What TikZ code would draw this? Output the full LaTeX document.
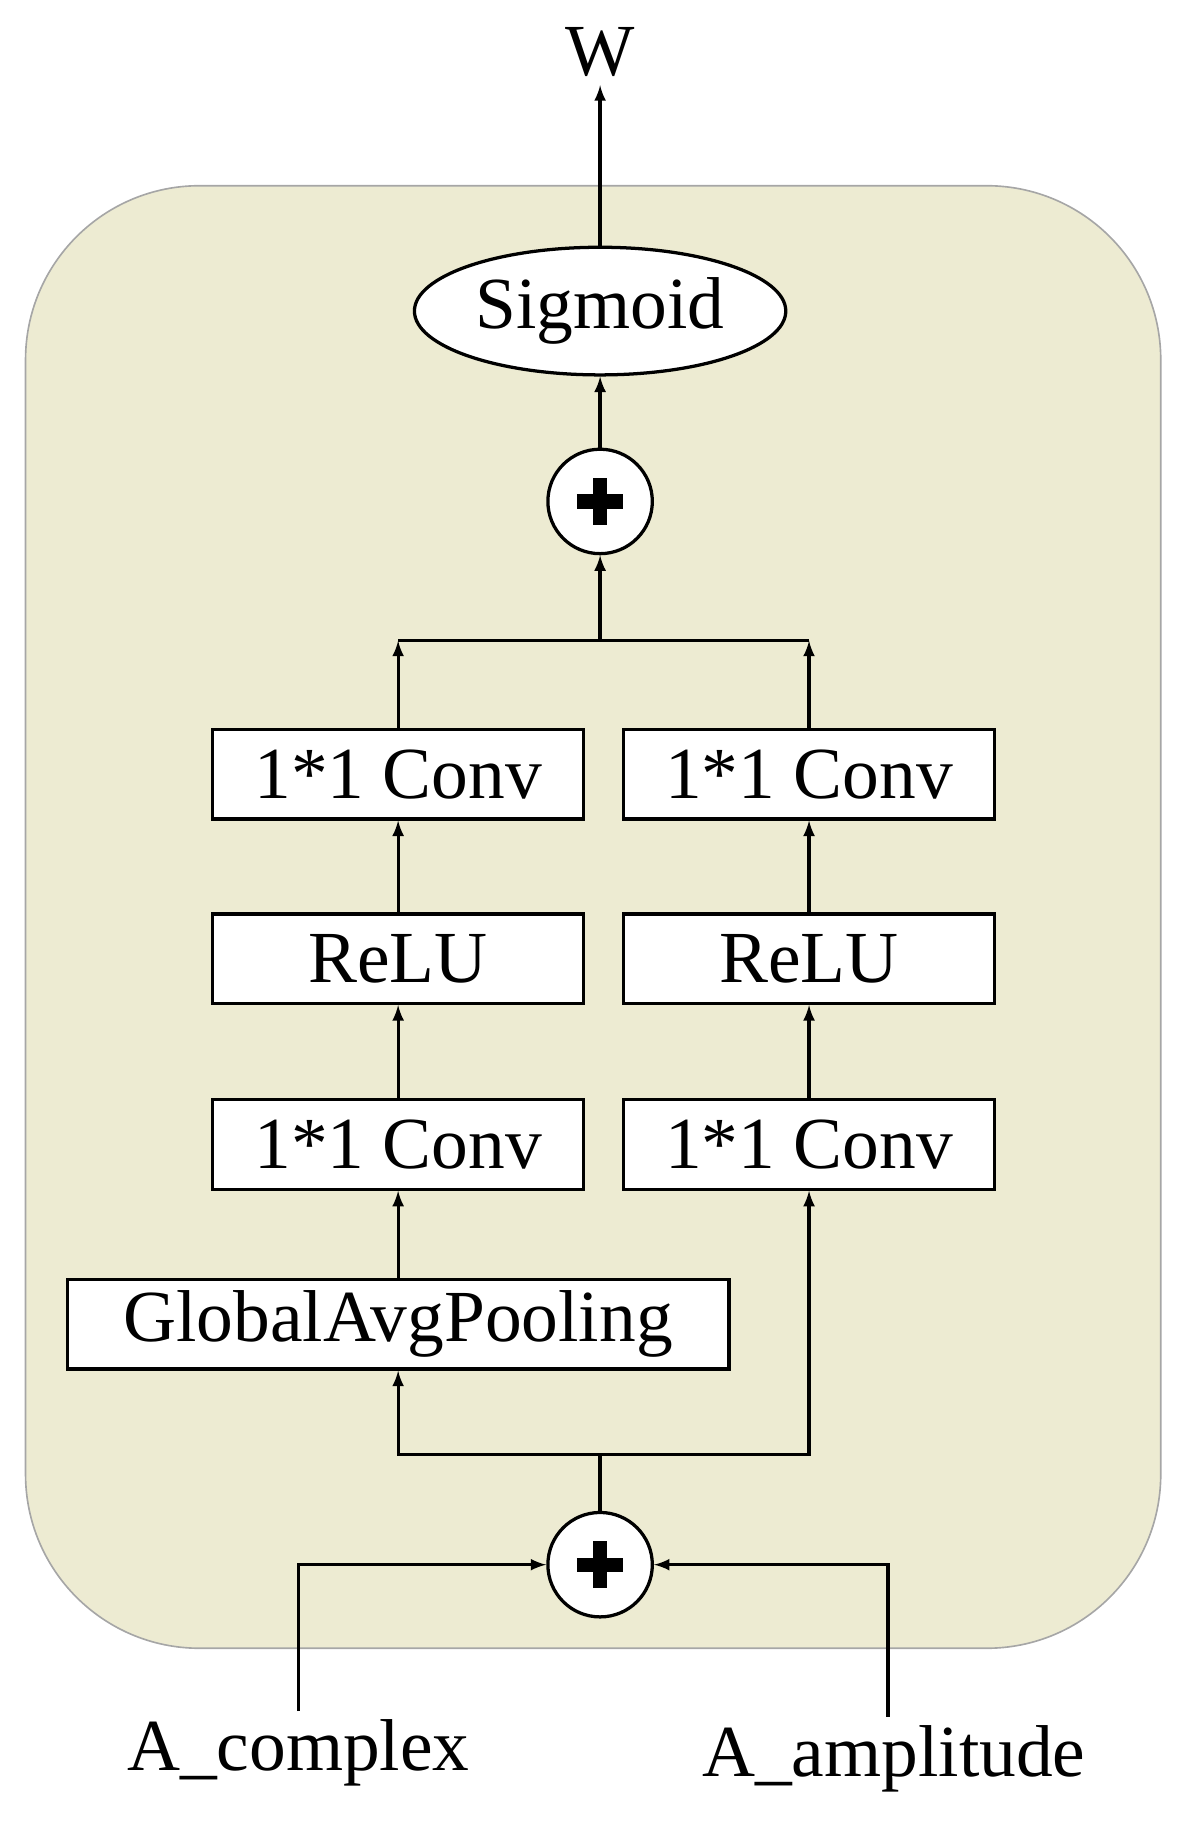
\documentclass[tikz,border=0pt]{standalone}
\usepackage{fontspec}
\setmainfont{Liberation Serif}
\usepackage{xcolor}
\usetikzlibrary{shapes,arrows,positioning}
\definecolor{panel}{RGB}{237,235,210}

\begin{document}
\begin{tikzpicture}[x=0.02cm, y=-0.02cm, >={latex[scale=2.6]}, line width=1.6pt]
    % Define styles
    \tikzstyle{layer} = [rectangle, minimum height=1.54cm, text centered, draw=black, fill=white, font=\fontsize{36}{42}\selectfont, inner sep=0pt]
    \tikzstyle{sum} = [circle, minimum size=1.8cm, draw=black, fill=white, inner sep=0pt]
    \tikzstyle{label} = [font=\fontsize{36}{42}\selectfont]

    \useasboundingbox (0,0) rectangle (1020,1574);
    \draw[fill=panel, draw=black!35, line width=0.8pt, rounded corners=3cm] (22,160) rectangle (1000,1420);

    % Nodes
    \node[label] (w) at (517,45) {W};
    \node[ellipse, draw=black, fill=white, minimum width=6.4cm, minimum height=2.2cm, font=\fontsize{36}{42}\selectfont] (sigmoid) at (517,268) {Sigmoid};
    \node[sum] (sum_top) at (517,432) {};
    \coordinate (join_top) at (517,552);
    \node[layer, minimum width=6.4cm] (conv_l2) at (343,667) {1*1 Conv};
    \node[layer, minimum width=6.4cm] (relu_l) at (343,826) {ReLU};
    \node[layer, minimum width=6.4cm] (conv_l1) at (343,986) {1*1 Conv};
    \node[layer, minimum width=11.4cm] (gap) at (343,1141) {GlobalAvgPooling};
    \node[layer, minimum width=6.4cm] (conv_r2) at (697,667) {1*1 Conv};
    \node[layer, minimum width=6.4cm] (relu_r) at (697,826) {ReLU};
    \node[layer, minimum width=6.4cm] (conv_r1) at (697,986) {1*1 Conv};
    \coordinate (join_l) at (343,552);
    \coordinate (join_r) at (697,552);
    \coordinate (split) at (517,1253);
    \node[sum] (sum_bottom) at (517,1348) {};
    \node[label] (a_complex) at (257,1510) {A\_complex};
    \node[label] (a_amplitude) at (770,1515) {A\_amplitude};

    % plus signs
    \foreach \s in {sum_top, sum_bottom} {
        \draw[line width=7pt] (\s.center) ++(-20,0) -- ++(40,0);
        \draw[line width=7pt] (\s.center) ++(0,-20) -- ++(0,40);
    }

    % Connections
    \draw[->] (sigmoid) -- (w);
    \draw[->] (sum_top) -- (sigmoid);
    \draw[->] (join_top) -- (sum_top);
    \draw (join_l) -- (join_r);
    \draw[->] (conv_l2) -- (join_l);
    \draw[->] (conv_r2) -- (join_r);
    \draw[->] (relu_l) -- (conv_l2);
    \draw[->] (conv_l1) -- (relu_l);
    \draw[->] (gap) -- (conv_l1);
    \draw[->] (relu_r) -- (conv_r2);
    \draw[->] (conv_r1) -- (relu_r);
    \draw (sum_bottom) -- (split);
    \draw[->] (split) -| (gap.south);
    \draw[->] (split) -| (conv_r1.south);
    \draw[->] (a_complex.north) |- (sum_bottom.west);
    \draw[->] (a_amplitude.north -| 765,0) |- (sum_bottom.east);
\end{tikzpicture}
\end{document}
